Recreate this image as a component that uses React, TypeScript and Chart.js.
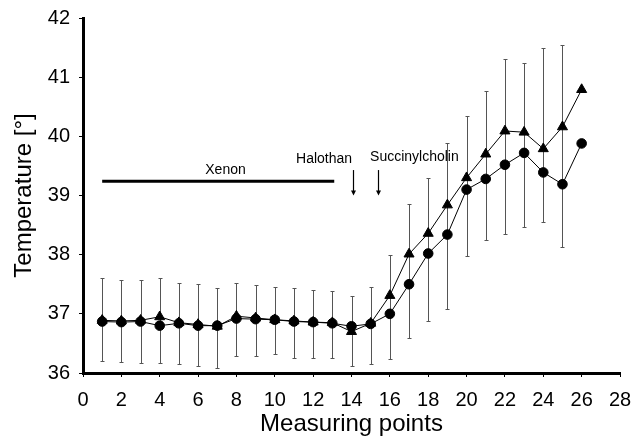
import React, { useEffect, useRef } from 'react';
import { Chart, registerables } from 'chart.js';

Chart.register(...registerables);

// ---- data ----
const measuringPoints = [1, 2, 3, 4, 5, 6, 7, 8, 9, 10, 11, 12, 13, 14, 15, 16, 17, 18, 19, 20, 21, 22, 23, 24, 25, 26];
const triangleSeries = [36.89, 36.88, 36.89, 36.95, 36.85, 36.82, 36.79, 36.96, 36.93, 36.9, 36.88, 36.86, 36.85, 36.7, 36.84, 37.31, 38.01, 38.36, 38.84, 39.3, 39.7, 40.09, 40.07, 39.79, 40.16, 40.79];
const circleSeries = [36.87, 36.86, 36.87, 36.8, 36.84, 36.8, 36.8, 36.92, 36.91, 36.9, 36.87, 36.86, 36.84, 36.79, 36.83, 37.0, 37.5, 38.02, 38.34, 39.1, 39.28, 39.52, 39.72, 39.39, 39.19, 39.88];
const errorTop = [37.61, 37.58, 37.57, 37.6, 37.52, 37.5, 37.43, 37.52, 37.49, 37.45, 37.43, 37.41, 37.39, 37.3, 37.45, 37.99, 38.86, 39.29, 39.88, 40.35, 40.77, 41.3, 41.24, 41.49, 41.55, null];
const errorBottom = [36.2, 36.19, 36.17, 36.17, 36.15, 36.12, 36.09, 36.28, 36.28, 36.32, 36.25, 36.26, 36.26, 36.12, 36.15, 36.23, 36.59, 36.88, 37.08, 37.98, 38.24, 38.35, 38.47, 38.56, 38.13, null];

const xMin = 0;
const xMax = 28;
const xStep = 2;
const yMin = 36;
const yMax = 42;
const yStep = 1;

// annotations (data coordinates)
const annotationLabels = ['Xenon', 'Halothan', 'Succinylcholin'];
const annotationLabelX = [7.43, 12.57, 17.28];
const annotationLabelY = [39.43, 39.62, 39.64];
const xenonRange = [1, 13.1];
const xenonLevel = 39.24;
const arrowX = [14.1, 15.4];
const arrowRange = [39.43, 39.0];

const FONT = '"Liberation Sans", Arial, sans-serif';

const errorBarPlugin = {
  id: 'errorBars',
  beforeDatasetsDraw(chart: any) {
    const { ctx, scales } = chart;
    const x = scales.x;
    const y = scales.y;
    ctx.save();
    ctx.strokeStyle = '#555';
    ctx.lineWidth = 1;
    measuringPoints.forEach((p, i) => {
      const top = errorTop[i];
      const bottom = errorBottom[i];
      if (top == null || bottom == null) return;
      const px = Math.round(x.getPixelForValue(p)) + 0.5;
      const yt = Math.round(y.getPixelForValue(top)) + 0.5;
      const yb = Math.round(y.getPixelForValue(bottom)) + 0.5;
      ctx.beginPath();
      ctx.moveTo(px, yt);
      ctx.lineTo(px, yb);
      ctx.moveTo(px - 2, yt);
      ctx.lineTo(px + 2, yt);
      ctx.moveTo(px - 2, yb);
      ctx.lineTo(px + 2, yb);
      ctx.stroke();
    });
    ctx.restore();
  },
};

const annotationPlugin = {
  id: 'annotations',
  afterDraw(chart: any) {
    const { ctx, scales } = chart;
    const x = scales.x;
    const y = scales.y;
    ctx.save();
    // Xenon bar
    ctx.strokeStyle = '#000';
    ctx.lineWidth = 3;
    ctx.beginPath();
    const yl = y.getPixelForValue(xenonLevel);
    ctx.moveTo(x.getPixelForValue(xenonRange[0]), yl);
    ctx.lineTo(x.getPixelForValue(xenonRange[1]), yl);
    ctx.stroke();
    // labels
    ctx.fillStyle = '#000';
    ctx.font = '14px ' + FONT;
    ctx.textAlign = 'center';
    ctx.textBaseline = 'middle';
    annotationLabels.forEach((t, i) => {
      ctx.fillText(t, x.getPixelForValue(annotationLabelX[i]), y.getPixelForValue(annotationLabelY[i]));
    });
    // arrows
    ctx.lineWidth = 1.2;
    arrowX.forEach((ax) => {
      const px = Math.round(x.getPixelForValue(ax)) + 0.5;
      const y0 = y.getPixelForValue(arrowRange[0]);
      const y1 = y.getPixelForValue(arrowRange[1]);
      ctx.beginPath();
      ctx.moveTo(px, y0);
      ctx.lineTo(px, y1 - 4);
      ctx.stroke();
      ctx.beginPath();
      ctx.moveTo(px - 2.5, y1 - 5);
      ctx.lineTo(px + 2.5, y1 - 5);
      ctx.lineTo(px, y1);
      ctx.closePath();
      ctx.fill();
    });
    ctx.restore();
  },
};

export default function App() {
  const canvasRef = useRef<HTMLCanvasElement | null>(null);

  useEffect(() => {
    if (!canvasRef.current) return;
    Chart.defaults.font.family = FONT;
    const chart = new Chart(canvasRef.current, {
      type: 'line',
      data: {
        datasets: [
          {
            label: 'circles',
            data: measuringPoints.map((p, i) => ({ x: p, y: circleSeries[i] })),
            borderColor: '#000',
            backgroundColor: '#000',
            borderWidth: 1,
            pointStyle: 'circle',
            pointRadius: 4.8,
            pointBackgroundColor: '#000',
            pointBorderColor: '#000',
            tension: 0,
          },
          {
            label: 'triangles',
            data: measuringPoints.map((p, i) => ({ x: p, y: triangleSeries[i] })),
            borderColor: '#000',
            backgroundColor: '#000',
            borderWidth: 1,
            pointStyle: 'triangle',
            pointRadius: 5.8,
            pointBackgroundColor: '#000',
            pointBorderColor: '#000',
            tension: 0,
          },
        ],
      },
      options: {
        responsive: false,
        animation: false,
        layout: { padding: { top: 18, right: 12, left: 0, bottom: 0 } },
        plugins: {
          legend: { display: false },
          tooltip: { enabled: false },
        },
        scales: {
          x: {
            type: 'linear',
            min: xMin,
            max: xMax,
            afterFit: (scale: any) => {
              scale.height = 67;
              scale.paddingLeft = 0;
              scale.paddingRight = 0;
            },
            ticks: {
              stepSize: xStep,
              color: '#000',
              padding: 11,
              font: { size: 20, family: FONT },
              maxRotation: 0,
            },
            grid: {
              display: true,
              drawOnChartArea: false,
              drawTicks: true,
              tickLength: 4,
              color: '#000',
            },
            border: { display: true, color: '#000', width: 3 },
            title: {
              display: true,
              text: 'Measuring points',
              color: '#000',
              font: { size: 24, family: FONT },
              padding: { top: 0, bottom: 1 },
            },
          },
          y: {
            type: 'linear',
            min: yMin,
            max: yMax,
            afterFit: (scale: any) => {
              scale.width = 83;
              scale.paddingTop = 0;
              scale.paddingBottom = 0;
            },
            ticks: {
              stepSize: yStep,
              color: '#000',
              padding: 9,
              font: { size: 20, family: FONT },
            },
            grid: {
              display: true,
              drawOnChartArea: false,
              drawTicks: true,
              tickLength: 4,
              color: '#000',
            },
            border: { display: true, color: '#000', width: 3 },
            title: {
              display: true,
              text: 'Temperature [°]',
              color: '#000',
              font: { size: 24, family: FONT },
              padding: { top: 10, bottom: 0 },
            },
          },
        },
      },
      plugins: [errorBarPlugin, annotationPlugin],
    });
    return () => chart.destroy();
  }, []);

  return (
    <div style={{ position: 'fixed', left: 0, top: 0, width: 632, height: 440, background: '#fff' }}>
      <canvas ref={canvasRef} width={632} height={440} style={{ display: 'block' }} />
    </div>
  );
}
